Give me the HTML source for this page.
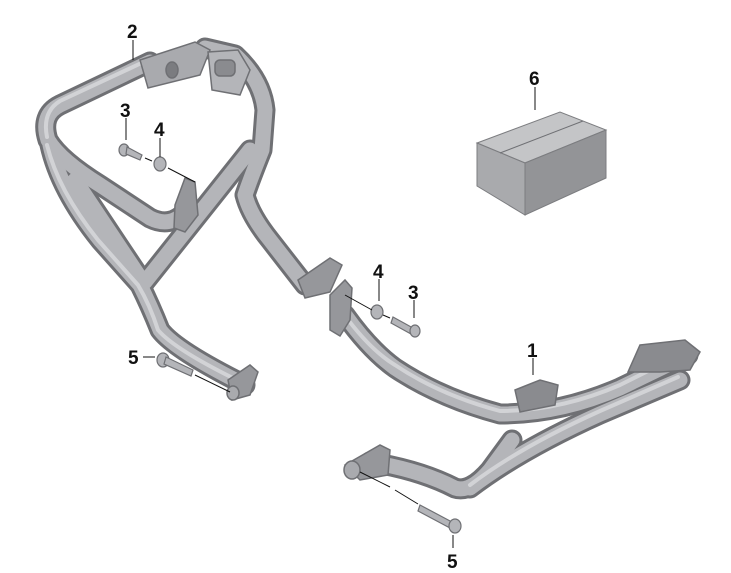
<!DOCTYPE html>
<html><head><style>
html,body{margin:0;padding:0;background:#fff;}
svg{display:block;}
text{font-family:"Liberation Sans",sans-serif;font-weight:bold;font-size:19px;fill:#111;}
</style></head><body>
<svg width="731" height="573" viewBox="0 0 731 573" xmlns="http://www.w3.org/2000/svg">
<g fill="none" stroke-linecap="round" stroke-linejoin="round">
<g stroke="#6f7074" stroke-width="21">
<path d="M150 62 L60 105 Q40 115 48 140 Q60 160 100 185 L150 218 Q170 228 185 212"/>
<path d="M50 145 Q60 190 100 240 L140 285 Q150 305 160 330 Q175 350 245 385"/>
<path d="M75 180 L143 282"/>
<path d="M145 282 L250 150"/>
<path d="M205 48 L235 55 Q262 80 265 110 L262 150 Q250 180 245 195 Q250 215 270 240 L305 285"/>
<path d="M345 315 Q370 350 395 368 Q440 398 500 414 Q560 414 620 388 L688 355"/>
<path d="M370 462 Q420 470 455 488 Q470 493 490 470 L512 440"/>
<path d="M470 488 Q520 450 600 414 L680 380"/>
</g>
<g stroke="#b4b5b9" stroke-width="15">
<path d="M150 62 L60 105 Q40 115 48 140 Q60 160 100 185 L150 218 Q170 228 185 212"/>
<path d="M50 145 Q60 190 100 240 L140 285 Q150 305 160 330 Q175 350 245 385"/>
<path d="M75 180 L143 282"/>
<path d="M145 282 L250 150"/>
<path d="M205 48 L235 55 Q262 80 265 110 L262 150 Q250 180 245 195 Q250 215 270 240 L305 285"/>
<path d="M345 315 Q370 350 395 368 Q440 398 500 414 Q560 414 620 388 L688 355"/>
<path d="M370 462 Q420 470 455 488 Q470 493 490 470 L512 440"/>
<path d="M470 488 Q520 450 600 414 L680 380"/>
</g>
<g stroke="#d2d3d6" stroke-width="4">
<path d="M150 59 L60 101 Q42 112 47 137"/>
<path d="M47 145 Q58 190 98 240 L138 285 Q150 305 158 330 Q175 350 243 383"/>
<path d="M343 313 Q370 350 395 365 Q440 395 500 411 Q560 411 620 385 L686 352"/>
<path d="M470 485 Q520 447 600 411 L678 377"/>
</g>
</g>
<g stroke="#6f7074" stroke-width="1.5">
<path d="M140 60 L195 42 L210 50 L200 75 L148 88 Z" fill="#a9aaae"/>
<ellipse cx="172" cy="70" rx="6" ry="8" fill="#7b7c80"/>
<path d="M208 52 L238 50 L250 70 L240 95 L212 90 Z" fill="#b4b5b9"/>
<rect x="215" y="60" width="20" height="16" rx="5" fill="#8a8b8f"/>
<path d="M175 205 L185 178 L195 182 L198 215 L185 232 L174 228 Z" fill="#96979b"/>
<path d="M298 280 L330 258 L342 265 L330 292 L305 298 Z" fill="#96979b"/>
<path d="M228 380 L250 365 L258 372 L250 395 L232 400 Z" fill="#96979b"/>
<ellipse cx="233" cy="393" rx="6" ry="7" fill="#a9aaae"/>
<path d="M330 295 L345 280 L352 288 L350 320 L340 336 L330 330 Z" fill="#96979b"/>
<path d="M515 390 L540 380 L558 385 L555 405 L520 412 Z" fill="#8a8b8f"/>
<path d="M640 345 L685 340 L700 352 L690 370 L660 372 L628 372 Z" fill="#8a8b8f"/>
<path d="M345 465 L380 445 L390 450 L388 475 L360 480 Z" fill="#96979b"/>
<ellipse cx="352" cy="470" rx="8" ry="9" fill="#a9aaae"/>
</g>
<g stroke="#6f7074" stroke-width="1.2" fill="#b4b5b9">
<ellipse cx="124" cy="150" rx="5" ry="6"/>
<path d="M127 147 L142 155 L140 160 L126 154 Z"/>
<ellipse cx="160" cy="164" rx="6" ry="7"/>
<ellipse cx="163" cy="360" rx="6" ry="7"/>
<path d="M166 357 L193 370 L191 376 L164 364 Z"/>
<ellipse cx="377" cy="312" rx="6" ry="7"/>
<path d="M393 317 L413 328 L411 334 L391 323 Z"/>
<ellipse cx="415" cy="331" rx="5" ry="6"/>
<path d="M420 505 L452 522 L450 528 L418 511 Z"/>
<ellipse cx="455" cy="526" rx="6" ry="7"/>
</g>
<g stroke="#111" stroke-width="1" fill="none">
<path d="M145 158 L152 161 M168 168 L195 182"/>
<path d="M195 375 L230 392"/>
<path d="M345 295 L372 310 M383 315 L390 318"/>
<path d="M360 472 L390 487 M395 490 L418 504"/>
<path d="M133 40 L133 60 M126 118 L126 140 M160 138 L160 157 M535 87 L535 110 M379 279 L379 301 M414 300 L414 318 M533 358 L533 375 M143 357 L155 357 M453 535 L453 548"/>
</g>
<g stroke="#7c7d80" stroke-width="1">
<path d="M477 143 L560 112 L606 130 L525 163 Z" fill="#c4c5c7"/>
<path d="M477 143 L525 163 L525 215 L477 186 Z" fill="#a9aaad"/>
<path d="M525 163 L606 130 L606 178 L525 215 Z" fill="#939497"/>
<path d="M500 153 L583 121" stroke="#6f7074"/>
</g>
<text x="127" y="38">2</text>
<text x="120" y="117">3</text>
<text x="154" y="136">4</text>
<text x="529" y="85">6</text>
<text x="373" y="278">4</text>
<text x="408" y="299">3</text>
<text x="527" y="357">1</text>
<text x="128" y="364">5</text>
<text x="447" y="568">5</text>
</svg>
</body></html>
